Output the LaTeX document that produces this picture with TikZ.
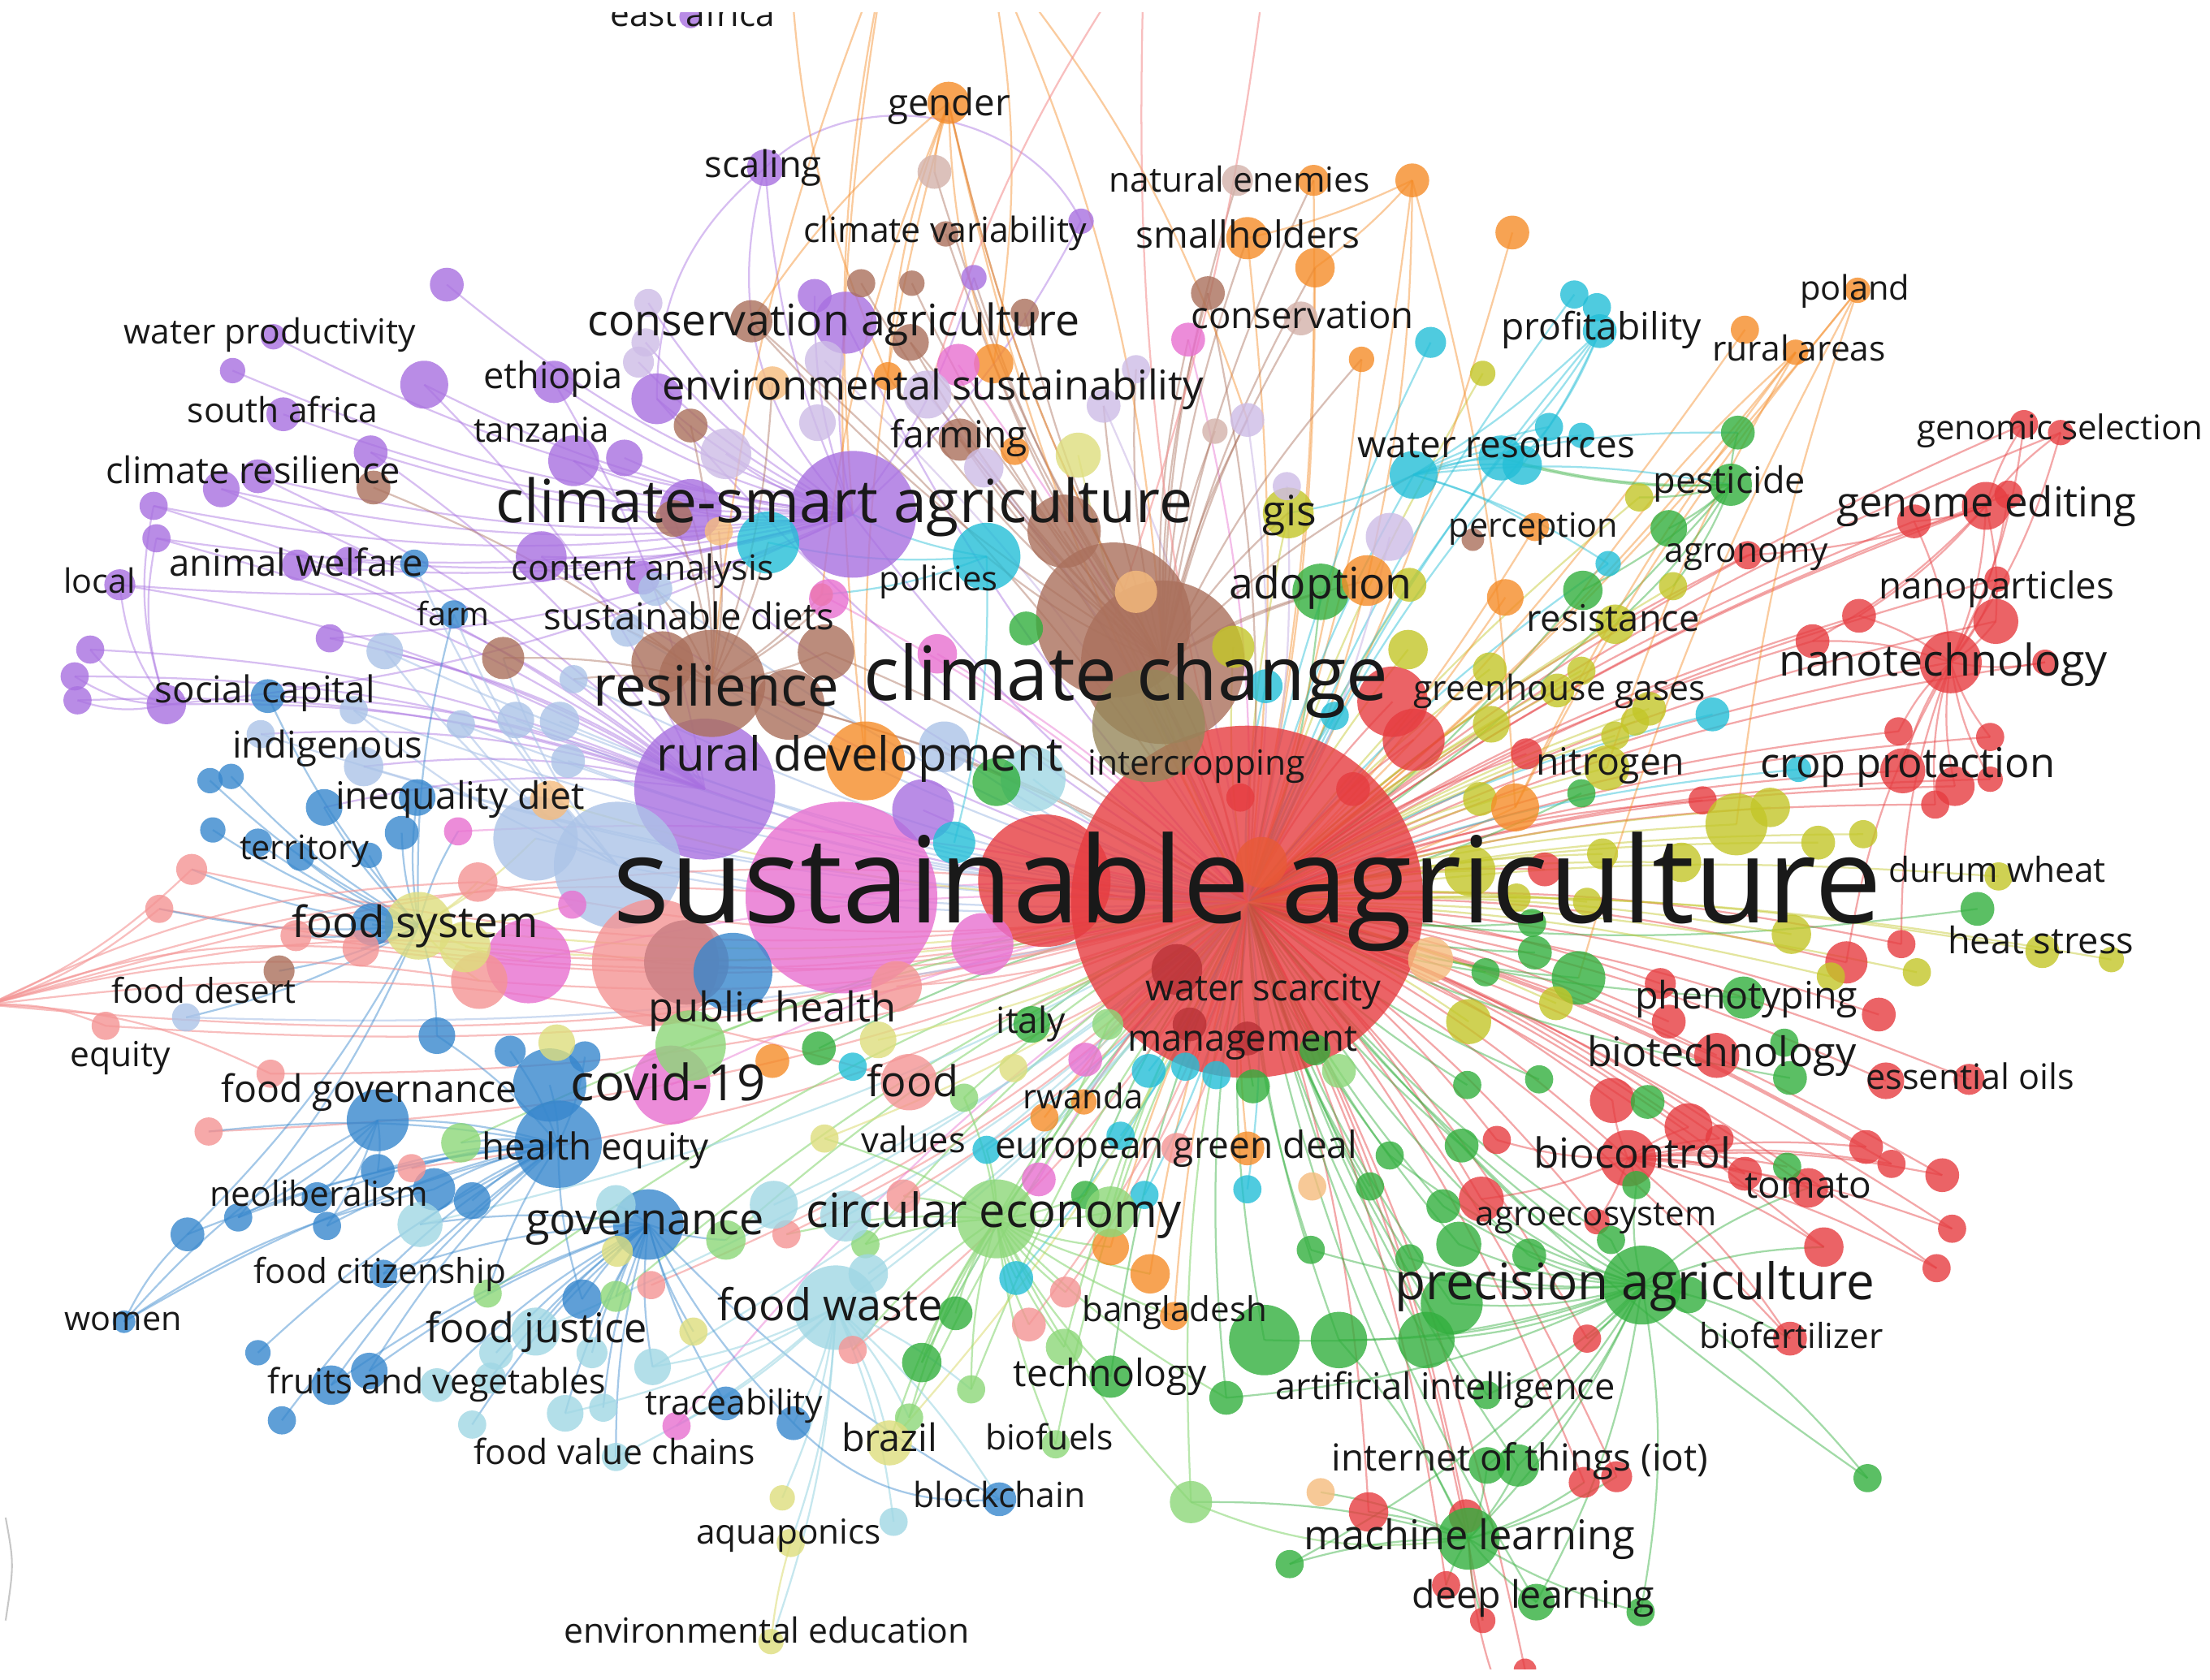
\documentclass[tikz,border=0pt]{standalone}
\usepackage{fontspec}
\usepackage{graphicx}
\newfontfamily\osans{Open Sans}
\definecolor{cR}{RGB}{230,60,64}
\definecolor{cRO}{RGB}{232,90,55}
\definecolor{cRD}{RGB}{185,50,55}
\definecolor{cG}{RGB}{50,175,62}
\definecolor{cB}{RGB}{55,135,205}
\definecolor{cY}{RGB}{195,198,40}
\definecolor{cP}{RGB}{168,112,224}
\definecolor{cC}{RGB}{35,190,215}
\definecolor{cO}{RGB}{245,140,40}
\definecolor{cN}{RGB}{170,112,92}
\definecolor{cOl}{RGB}{150,135,90}
\definecolor{cNR}{RGB}{200,125,130}
\definecolor{cK}{RGB}{232,112,208}
\definecolor{cLR}{RGB}{244,148,148}
\definecolor{cLB}{RGB}{172,196,232}
\definecolor{cLG}{RGB}{140,215,120}
\definecolor{cLC}{RGB}{160,215,228}
\definecolor{cLP}{RGB}{205,188,230}
\definecolor{cLN}{RGB}{212,178,170}
\definecolor{cLY}{RGB}{222,222,125}
\definecolor{cLO}{RGB}{246,188,125}
\definecolor{txt}{RGB}{25,25,25}
\pgfdeclarelayer{bg}
\pgfdeclarelayer{edges}
\pgfdeclarelayer{front}
\pgfdeclarelayer{top}
\pgfsetlayers{bg,edges,main,front,top}
\newcommand\nd[5]{\node[bub,fill=#5,minimum size=#4*2pt] (#1) at (#2,#3) {};}
\newcommand\lb[5]{\node[lbl] (#1) at (#2,#3) {\resizebox{#4pt}{!}{\osans\fontsize{20}{24}\selectfont #5}};}
\begin{document}
\begin{tikzpicture}[x=1pt,y=-1pt,
  bub/.style={circle,inner sep=0pt,draw=none,fill opacity=0.8},
  lbl/.style={anchor=base,inner sep=0pt,text=txt},
  ed/.style={line width=1.3pt,draw opacity=0.45},
  eR/.style={ed,draw=cR},eG/.style={ed,draw=cG},eY/.style={ed,draw=cY},
  eB/.style={ed,draw=cB},eP/.style={ed,draw=cP},eC/.style={ed,draw=cC},
  eO/.style={ed,draw=cO},eN/.style={ed,draw=cN},eK/.style={ed,draw=cK},
  eLR/.style={ed,draw=cLR,draw opacity=0.6},eLB/.style={ed,draw=cLB,draw opacity=0.6},
  eLG/.style={ed,draw=cLG,draw opacity=0.6},eLC/.style={ed,draw=cLC,draw opacity=0.6},
  eLP/.style={ed,draw=cLP,draw opacity=0.6},eLY/.style={ed,draw=cLY,draw opacity=0.6}]
\useasboundingbox (0,0) rectangle (1568,1192);
\begin{pgfonlayer}{bg}
\fill[white] (0,0) rectangle (1568,1192);
\end{pgfonlayer}
% ---------- big circles first
\nd{sa}{885}{640}{125}{cR}
\nd{k5}{597}{637}{68}{cK}
\nd{p32}{500}{560}{50}{cP}
\nd{sa2}{741}{625}{47}{cR}
\nd{lb11}{438}{614}{45}{cLB}
\nd{lr8}{465}{683}{45}{cLR}
\nd{p21}{605}{365}{45}{cP}
\nd{n15}{790}{440}{55}{cN}
\nd{n16}{825}{470}{58}{cN}
\nd{n17}{815}{515}{40}{cOl}
\nd{n18}{505}{485}{38}{cN}
\nd{lb10}{380}{595}{30}{cLB}
\nd{b20}{396}{812}{31}{cB}
\nd{lc14}{593}{928}{30}{cLC}
\nd{k7}{375}{682}{30}{cK}
\nd{n22}{487}{683}{30}{cNR}
\nd{b39}{520}{690}{28}{cB}
\nd{lg10}{707}{865}{28}{cLG}
\nd{g18}{1165}{912}{28}{cG}
\nd{k9}{476}{770}{28}{cK}
\nd{o18}{614}{540}{28}{cO}
\nd{b17}{390}{770}{26}{cB}
\nd{n14}{755}{377}{26}{cN}
\nd{lg1}{490}{742}{25}{cLG}
\nd{b28}{460}{869}{25}{cB}
\nd{g25}{897}{951}{25}{cG}
\nd{r3}{988}{498}{25}{cR}
\nd{n19}{560}{500}{25}{cN}
\nd{ly3}{297}{657}{24}{cLY}
\nd{c11}{700}{395}{24}{cC}
\nd{lc18}{733}{553}{23}{cLC}
% ---------- red
\nd{r4}{1003}{525}{22}{cR}
\nd{r5}{895}{612}{18}{cRO}
\nd{r6}{1083}{535}{11}{cR}
\nd{r7}{1436}{301}{10}{cR}
\nd{r8}{1462}{307}{9}{cR}
\nd{r9}{1409}{359}{17}{cR}
\nd{r10}{1425}{351}{10}{cR}
\nd{r11}{1358}{370}{12}{cR}
\nd{r12}{1416}{441}{16}{cR}
\nd{r13}{1417}{411}{9}{cR}
\nd{r14}{1384}{470}{22}{cR}
\nd{r15}{1319}{437}{12}{cR}
\nd{r16}{1286}{455}{12}{cR}
\nd{r17}{1451}{470}{9}{cR}
\nd{r18}{1347}{519}{10}{cR}
\nd{r19}{1412}{523}{10}{cR}
\nd{r20}{1350}{547}{16}{cR}
\nd{r21}{1387}{558}{14}{cR}
\nd{r22}{1412}{553}{9}{cR}
\nd{r23}{1373}{571}{10}{cR}
\nd{r24}{1208}{568}{10}{cR}
\nd{r25}{1349}{670}{10}{cR}
\nd{r26}{1310}{683}{15}{cR}
\nd{r27}{1333}{720}{12}{cR}
\nd{r28}{1178}{698}{11}{cR}
\nd{r29}{1184}{725}{12}{cR}
\nd{r30}{1218}{749}{16}{cR}
\nd{r31}{1338}{767}{13}{cR}
\nd{r32}{1397}{766}{11}{cR}
\nd{r33}{1144}{781}{16}{cR}
\nd{r34}{1155}{822}{20}{cR}
\nd{r35}{1198}{800}{17}{cR}
\nd{r36}{1220}{808}{10}{cR}
\nd{r37}{1062}{809}{10}{cR}
\nd{r38}{1051}{851}{16}{cR}
\nd{r39}{1133}{867}{9}{cR}
\nd{r40}{1238}{833}{12}{cR}
\nd{r41}{1283}{843}{14}{cR}
\nd{r42}{1324}{814}{12}{cR}
\nd{r43}{1342}{826}{10}{cR}
\nd{r44}{1378}{834}{12}{cR}
\nd{r45}{1385}{872}{10}{cR}
\nd{r46}{1374}{900}{10}{cR}
\nd{r47}{1294}{885}{14}{cR}
\nd{r48}{1270}{950}{12}{cR}
\nd{r49}{1126}{950}{10}{cR}
\nd{r50}{1124}{1052}{11}{cR}
\nd{r51}{1147}{1048}{11}{cR}
\nd{r52}{1040}{1076}{12}{cR}
\nd{r53}{971}{1073}{14}{cR}
\nd{r54}{1026}{1125}{10}{cR}
\nd{r55}{1052}{1150}{9}{cR}
\nd{r56}{1082}{1185}{8}{cR}
\nd{r57}{1240}{394}{10}{cR}
\nd{r58}{880}{566}{10}{cR}
\nd{r60}{960}{560}{12}{cR}
\nd{r61}{1096}{617}{12}{cR}
\nd{r62}{835}{688}{18}{cRD}
\nd{r63}{844}{727}{12}{cRD}
\nd{r64}{885}{737}{12}{cRD}
% ---------- green
\nd{g1}{937}{420}{20}{cG}
\nd{g2}{1233}{307}{12}{cG}
\nd{g3}{1228}{344}{15}{cG}
\nd{g4}{1184}{375}{13}{cG}
\nd{g5}{1123}{419}{14}{cG}
\nd{g6}{1122}{563}{10}{cG}
\nd{g7}{1403}{645}{12}{cG}
\nd{g8}{1237}{708}{15}{cG}
\nd{g9}{1266}{740}{10}{cG}
\nd{g10}{1270}{765}{12}{cG}
\nd{g11}{1092}{766}{10}{cG}
\nd{g12}{1169}{782}{12}{cG}
\nd{g13}{1120}{694}{19}{cG}
\nd{g14}{1089}{676}{12}{cG}
\nd{g15}{1054}{690}{10}{cG}
\nd{g16}{1161}{841}{10}{cG}
\nd{g17}{1268}{828}{10}{cG}
\nd{g19}{1198}{919}{13}{cG}
\nd{g20}{1085}{891}{12}{cG}
\nd{g21}{1035}{883}{16}{cG}
\nd{g22}{1030}{925}{22}{cG}
\nd{g23}{1012}{951}{20}{cG}
\nd{g24}{950}{951}{20}{cG}
\nd{g26}{870}{992}{12}{cG}
\nd{g27}{788}{977}{15}{cG}
\nd{g28}{654}{967}{14}{cG}
\nd{g29}{678}{932}{12}{cG}
\nd{g30}{1325}{1049}{10}{cG}
\nd{g31}{1077}{1040}{15}{cG}
\nd{g32}{1055}{1040}{13}{cG}
\nd{g33}{1042}{1092}{22}{cG}
\nd{g34}{915}{1110}{10}{cG}
\nd{g35}{1090}{1137}{13}{cG}
\nd{g36}{1164}{1144}{10}{cG}
\nd{g37}{732}{727}{13}{cG}
\nd{g38}{581}{744}{12}{cG}
\nd{g39}{889}{771}{12}{cG}
\nd{g40}{770}{848}{10}{cG}
\nd{g41}{707}{555}{17}{cG}
\nd{g42}{728}{446}{12}{cG}
\nd{g43}{986}{820}{10}{cG}
\nd{g44}{1037}{813}{12}{cG}
\nd{g45}{1024}{856}{12}{cG}
\nd{g46}{972}{842}{10}{cG}
\nd{g47}{930}{887}{10}{cG}
\nd{g48}{933}{745}{11}{cG}
\nd{g49}{1041}{770}{10}{cG}
\nd{g50}{1087}{655}{10}{cG}
\nd{g51}{1000}{893}{10}{cG}
\nd{g52}{1143}{880}{10}{cG}
\nd{g53}{1055}{990}{10}{cG}
% ---------- yellow
\nd{y1}{914}{364}{18}{cY}
\nd{y2}{1052}{265}{9}{cY}
\nd{y3}{1163}{353}{10}{cY}
\nd{y4}{1146}{443}{14}{cY}
\nd{y5}{1187}{416}{10}{cY}
\nd{y6}{1057}{475}{12}{cY}
\nd{y7}{1122}{476}{10}{cY}
\nd{y8}{1105}{490}{12}{cY}
\nd{y9}{1170}{503}{12}{cY}
\nd{y10}{1160}{512}{10}{cY}
\nd{y11}{1146}{522}{10}{cY}
\nd{y12}{1058}{514}{13}{cY}
\nd{y13}{1140}{545}{16}{cY}
\nd{y14}{1050}{567}{12}{cY}
\nd{y15}{1232}{585}{22}{cY}
\nd{y16}{1256}{573}{14}{cY}
\nd{y17}{1290}{598}{12}{cY}
\nd{y18}{1322}{592}{10}{cY}
\nd{y19}{1137}{606}{11}{cY}
\nd{y20}{1193}{612}{14}{cY}
\nd{y21}{1418}{622}{10}{cY}
\nd{y22}{1449}{675}{12}{cY}
\nd{y23}{1498}{681}{9}{cY}
\nd{y24}{1360}{690}{10}{cY}
\nd{y25}{1271}{663}{14}{cY}
\nd{y26}{1299}{693}{10}{cY}
\nd{y27}{1104}{712}{12}{cY}
\nd{y28}{1042}{725}{16}{cY}
\nd{y29}{875}{459}{15}{cY}
\nd{y30}{999}{461}{14}{cY}
\nd{y31}{1000}{415}{12}{cY}
\nd{y32}{1043}{618}{18}{cY}
\nd{y33}{1076}{637}{10}{cY}
\nd{y34}{1126}{640}{10}{cY}
% ---------- blue
\nd{b1}{294}{400}{10}{cB}
\nd{b2}{322}{436}{10}{cB}
\nd{b3}{190}{494}{12}{cB}
\nd{b4}{149}{554}{9}{cB}
\nd{b5}{164}{551}{9}{cB}
\nd{b6}{230}{573}{13}{cB}
\nd{b7}{296}{566}{13}{cB}
\nd{b8}{151}{589}{9}{cB}
\nd{b9}{183}{598}{10}{cB}
\nd{b10}{213}{608}{10}{cB}
\nd{b11}{262}{607}{9}{cB}
\nd{b12}{285}{591}{12}{cB}
\nd{b13}{264}{656}{15}{cB}
\nd{b14}{310}{735}{13}{cB}
\nd{b15}{362}{746}{11}{cB}
\nd{b16}{415}{750}{11}{cB}
\nd{b18}{268}{795}{22}{cB}
\nd{b21}{268}{831}{12}{cB}
\nd{b22}{308}{844}{15}{cB}
\nd{b23}{225}{850}{11}{cB}
\nd{b24}{335}{852}{13}{cB}
\nd{b25}{232}{870}{10}{cB}
\nd{b26}{169}{864}{10}{cB}
\nd{b27}{133}{876}{12}{cB}
\nd{b29}{272}{904}{10}{cB}
\nd{b30}{413}{922}{14}{cB}
\nd{b31}{183}{960}{9}{cB}
\nd{b32}{88}{938}{8}{cB}
\nd{b33}{262}{973}{13}{cB}
\nd{b34}{235}{983}{14}{cB}
\nd{b35}{200}{1008}{10}{cB}
\nd{b36}{563}{1010}{12}{cB}
\nd{b37}{515}{996}{12}{cB}
\nd{b38}{709}{1064}{12}{cB}
% ---------- purple
\nd{p1}{490}{12}{8}{cP}
\nd{p2}{543}{119}{13}{cP}
\nd{p3}{767}{157}{9}{cP}
\nd{p4}{691}{197}{9}{cP}
\nd{p5}{578}{210}{12}{cP}
\nd{p6}{600}{229}{22}{cP}
\nd{p7}{317}{202}{12}{cP}
\nd{p8}{194}{239}{9}{cP}
\nd{p9}{165}{263}{9}{cP}
\nd{p10}{301}{273}{17}{cP}
\nd{p11}{393}{271}{15}{cP}
\nd{p12}{466}{283}{18}{cP}
\nd{p13}{201}{294}{12}{cP}
\nd{p14}{263}{321}{12}{cP}
\nd{p15}{407}{327}{18}{cP}
\nd{p16}{443}{325}{13}{cP}
\nd{p17}{183}{338}{12}{cP}
\nd{p18}{157}{347}{13}{cP}
\nd{p19}{109}{359}{10}{cP}
\nd{p20}{111}{382}{10}{cP}
\nd{p22}{490}{362}{22}{cP}
\nd{p23}{384}{395}{18}{cP}
\nd{p24}{211}{401}{11}{cP}
\nd{p25}{247}{398}{10}{cP}
\nd{p26}{85}{415}{11}{cP}
\nd{p27}{64}{461}{10}{cP}
\nd{p28}{53}{480}{10}{cP}
\nd{p29}{55}{497}{10}{cP}
\nd{p30}{118}{500}{14}{cP}
\nd{p31}{234}{453}{10}{cP}
\nd{p33}{655}{575}{22}{cP}
\nd{p35}{456}{410}{12}{cP}
% ---------- cyan
\nd{c1}{1015}{243}{11}{cC}
\nd{c2}{1003}{337}{17}{cC}
\nd{c3}{1099}{303}{10}{cC}
\nd{c4}{1122}{309}{9}{cC}
\nd{c5}{1065}{325}{16}{cC}
\nd{c6}{1080}{330}{14}{cC}
\nd{c7}{1117}{209}{10}{cC}
\nd{c8}{1133}{218}{10}{cC}
\nd{c9}{1135}{235}{12}{cC}
\nd{c10}{545}{385}{22}{cC}
\nd{c12}{1141}{400}{9}{cC}
\nd{c13}{1215}{507}{12}{cC}
\nd{c14}{1276}{546}{9}{cC}
\nd{c15}{898}{487}{12}{cC}
\nd{c16}{947}{508}{10}{cC}
\nd{c17}{677}{598}{15}{cC}
\nd{c18}{605}{757}{10}{cC}
\nd{c19}{815}{760}{12}{cC}
\nd{c20}{841}{757}{10}{cC}
\nd{c21}{863}{763}{10}{cC}
\nd{c22}{700}{816}{10}{cC}
\nd{c23}{812}{848}{10}{cC}
\nd{c24}{885}{844}{10}{cC}
\nd{c25}{721}{907}{12}{cC}
\nd{c26}{795}{806}{10}{cC}
% ---------- orange
\nd{o1}{673}{73}{15}{cO}
\nd{o2}{932}{128}{11}{cO}
\nd{o3}{1002}{128}{12}{cO}
\nd{o4}{1073}{165}{12}{cO}
\nd{o5}{885}{169}{15}{cO}
\nd{o6}{933}{190}{14}{cO}
\nd{o7}{966}{255}{9}{cO}
\nd{o8}{705}{258}{14}{cO}
\nd{o9}{630}{267}{10}{cO}
\nd{o10}{720}{320}{10}{cO}
\nd{o11}{1238}{234}{10}{cO}
\nd{o12}{1318}{206}{9}{cO}
\nd{o13}{1274}{250}{9}{cO}
\nd{o14}{1089}{374}{10}{cO}
\nd{o15}{970}{412}{18}{cO}
\nd{o16}{1068}{424}{13}{cO}
\nd{o17}{1075}{573}{17}{cO}
\nd{o19}{583}{422}{8}{cO}
\nd{o20}{548}{753}{12}{cO}
\nd{o21}{741}{793}{10}{cO}
\nd{o22}{885}{815}{12}{cO}
\nd{o23}{788}{885}{13}{cO}
\nd{o24}{816}{904}{14}{cO}
\nd{o25}{833}{934}{10}{cO}
\nd{o26}{769}{782}{9}{cO}
% ---------- brown
\nd{n1}{671}{166}{9}{cN}
\nd{n2}{857}{208}{12}{cN}
\nd{n3}{647}{201}{9}{cN}
\nd{n4}{611}{201}{10}{cN}
\nd{n5}{533}{228}{15}{cN}
\nd{n6}{727}{222}{10}{cN}
\nd{n7}{646}{243}{13}{cN}
\nd{n8}{681}{312}{15}{cN}
\nd{n9}{490}{302}{12}{cN}
\nd{n10}{478}{368}{13}{cN}
\nd{n11}{265}{346}{12}{cN}
\nd{n12}{357}{467}{15}{cN}
\nd{n13}{198}{689}{11}{cN}
\nd{n20}{470}{470}{22}{cN}
\nd{n21}{586}{463}{20}{cN}
\nd{n23}{1045}{383}{8}{cN}
% ---------- pink
\nd{k1}{843}{241}{12}{cK}
\nd{k2}{680}{259}{15}{cK}
\nd{k3}{588}{425}{14}{cK}
\nd{k4}{665}{464}{14}{cK}
\nd{k6}{697}{670}{22}{cK}
\nd{k8}{406}{642}{10}{cK}
\nd{k10}{770}{752}{12}{cK}
\nd{k11}{737}{837}{12}{cK}
\nd{k12}{480}{1012}{10}{cK}
\nd{k13}{325}{590}{10}{cK}
% ---------- light red
\nd{lr1}{136}{617}{11}{cLR}
\nd{lr2}{113}{645}{10}{cLR}
\nd{lr3}{339}{626}{14}{cLR}
\nd{lr4}{210}{664}{11}{cLR}
\nd{lr5}{256}{673}{13}{cLR}
\nd{lr6}{75}{728}{10}{cLR}
\nd{lr7}{340}{696}{20}{cLR}
\nd{lr9}{192}{762}{10}{cLR}
\nd{lr10}{148}{803}{10}{cLR}
\nd{lr11}{292}{829}{10}{cLR}
\nd{lr12}{462}{912}{10}{cLR}
\nd{lr13}{558}{876}{10}{cLR}
\nd{lr14}{641}{849}{12}{cLR}
\nd{lr15}{756}{917}{11}{cLR}
\nd{lr16}{730}{940}{12}{cLR}
\nd{lr17}{605}{958}{10}{cLR}
\nd{lr18}{645}{768}{20}{cLR}
\nd{lr19}{636}{700}{18}{cLR}
\nd{lr20}{835}{815}{11}{cLR}
% ---------- light blue
\nd{lb1}{273}{462}{13}{cLB}
\nd{lb2}{251}{504}{10}{cLB}
\nd{lb3}{185}{521}{10}{cLB}
\nd{lb4}{327}{514}{10}{cLB}
\nd{lb5}{366}{511}{13}{cLB}
\nd{lb6}{397}{512}{14}{cLB}
\nd{lb7}{403}{540}{12}{cLB}
\nd{lb8}{407}{482}{10}{cLB}
\nd{lb9}{258}{544}{14}{cLB}
\nd{lb12}{132}{722}{10}{cLB}
\nd{lb13}{670}{530}{18}{cLB}
\nd{lb14}{465}{418}{12}{cLB}
\nd{lb15}{445}{447}{12}{cLB}
% ---------- light green
\nd{lg2}{327}{811}{14}{cLG}
\nd{lg3}{515}{880}{14}{cLG}
\nd{lg4}{346}{918}{10}{cLG}
\nd{lg5}{437}{920}{11}{cLG}
\nd{lg6}{645}{1006}{10}{cLG}
\nd{lg7}{749}{1025}{10}{cLG}
\nd{lg8}{845}{1066}{15}{cLG}
\nd{lg9}{689}{986}{10}{cLG}
\nd{lg11}{788}{860}{18}{cLG}
\nd{lg12}{614}{883}{10}{cLG}
\nd{lg13}{755}{956}{13}{cLG}
\nd{lg14}{786}{727}{11}{cLG}
\nd{lg15}{950}{760}{12}{cLG}
\nd{lg16}{684}{779}{10}{cLG}
% ---------- light cyan
\nd{lc1}{298}{869}{16}{cLC}
\nd{lc2}{437}{855}{14}{cLC}
\nd{lc3}{380}{945}{17}{cLC}
\nd{lc4}{352}{960}{12}{cLC}
\nd{lc5}{420}{960}{11}{cLC}
\nd{lc6}{463}{970}{13}{cLC}
\nd{lc7}{310}{983}{12}{cLC}
\nd{lc8}{348}{978}{11}{cLC}
\nd{lc9}{401}{1003}{13}{cLC}
\nd{lc10}{428}{999}{10}{cLC}
\nd{lc11}{335}{1011}{10}{cLC}
\nd{lc12}{437}{1034}{10}{cLC}
\nd{lc13}{634}{1080}{10}{cLC}
\nd{lc15}{616}{904}{14}{cLC}
\nd{lc16}{549}{855}{17}{cLC}
\nd{lc17}{600}{863}{18}{cLC}
% ---------- lavender
\nd{lp1}{460}{215}{10}{cLP}
\nd{lp2}{458}{243}{10}{cLP}
\nd{lp3}{453}{257}{11}{cLP}
\nd{lp4}{585}{256}{14}{cLP}
\nd{lp5}{658}{280}{17}{cLP}
\nd{lp6}{783}{288}{12}{cLP}
\nd{lp7}{806}{262}{10}{cLP}
\nd{lp8}{885}{298}{12}{cLP}
\nd{lp9}{698}{332}{14}{cLP}
\nd{lp10}{913}{345}{10}{cLP}
\nd{lp11}{986}{381}{17}{cLP}
\nd{lp12}{515}{322}{18}{cLP}
\nd{lp13}{580}{300}{13}{cLP}
% ---------- light brown / yellow / orange
\nd{ln1}{663}{122}{12}{cLN}
\nd{ln2}{878}{128}{11}{cLN}
\nd{ln3}{923}{226}{12}{cLN}
\nd{ln4}{862}{306}{9}{cLN}
\nd{ly1}{765}{323}{16}{cLY}
\nd{ly4}{330}{672}{18}{cLY}
\nd{ly5}{395}{740}{13}{cLY}
\nd{ly6}{438}{888}{11}{cLY}
\nd{ly7}{492}{945}{10}{cLY}
\nd{ly8}{555}{1063}{9}{cLY}
\nd{ly9}{561}{1095}{10}{cLY}
\nd{ly10}{547}{1165}{9}{cLY}
\nd{ly11}{631}{1024}{16}{cLY}
\nd{ly12}{585}{808}{10}{cLY}
\nd{ly13}{623}{738}{13}{cLY}
\nd{ly14}{719}{758}{10}{cLY}
\nd{lo1}{548}{272}{12}{cLO}
\nd{lo2}{510}{377}{10}{cLO}
\nd{lo3}{390}{568}{14}{cLO}
\nd{lo4}{931}{842}{10}{cLO}
\nd{lo5}{937}{1059}{10}{cLO}
\nd{lo6}{1015}{681}{16}{cLO}
\nd{lo7}{806}{420}{15}{cLO}
% ---------- points beyond the frame
\coordinate (et1) at (630,-40);
\coordinate (et2) at (700,-40);
\coordinate (et3) at (812,-40);
\coordinate (et4) at (560,-40);
\coordinate (et5) at (900,-40);
\coordinate (exl) at (-8,713);
\coordinate (exb) at (1075,1230);
% ---------- edges
\begin{pgfonlayer}{edges}
\foreach \t in {sa2,r3,r4,r6,r7,r8,r9,r10,r11,r12,r13,r14,r15,r16,r17,r18,r19,r20,r21,r22,r23,r24,r25,r26,r27,r28,r29,r30,r31,r32,r33,r34,r35,r36,r37,r38,r39,r40,r41,r42,r43,r44,r45,r46,r47,r48,r49,r50,r51,r52,r53,r54,r55,r56,r57,r61}
  \draw[eR] (sa.center) to[bend left=8] (\t.center);
\foreach \t in {g1,g3,g5,g6,g7,g8,g10,g11,g13,g14,g15,g18,g20,g21,g22,g23,g24,g25,g26,g27,g28,g30,g31,g33,g35,g37,g38,g39,g40,g43,g44,g45,g46,g47,g48,g49,g50,g51,g52,g53}
  \draw[eG] (sa.center) to[bend right=8] (\t.center);
\foreach \t in {y1,y2,y3,y4,y5,y6,y7,y8,y9,y10,y11,y12,y13,y14,y15,y16,y17,y18,y19,y20,y21,y22,y23,y24,y25,y26,y27,y28,y29,y30,y31,y32,y33,y34}
  \draw[eY] (sa.center) to[bend left=6] (\t.center);
\foreach \t in {o2,o3,o4,o5,o6,o7,o11,o12,o13,o14,o15,o16,o17,o21,o22,o23,o24,o25,o26}
  \draw[eO] (sa.center) to[bend right=6] (\t.center);
\foreach \t in {c1,c2,c3,c5,c7,c9,c12,c13,c14,c15,c16,c19,c20,c21,c22,c23,c24,c25,c26}
  \draw[eC] (sa.center) to[bend left=8] (\t.center);
\foreach \t in {lr1,lr2,lr3,lr4,lr5,lr6,lr7,lr8,lr9,lr10,lr11,lr12,lr13,lr14,lr15,lr16,lr17,lr18,lr19,lr20}
  \draw[eLR] (sa.center) to[bend left=10] (\t.center);
\foreach \t in {k1,k2,k3,k4,k5,k6,k7,k9,k10,k11,k12,k13}
  \draw[eK] (sa.center) to[bend right=8] (\t.center);
\foreach \t in {p6,p21,p32,p33,p12,p15,p23}
  \draw[eP] (sa.center) to[bend left=8] (\t.center);
\foreach \t in {n2,n5,n7,n8,n14,n15,n16,n18,n19,n21}
  \draw[eN] (sa.center) to[bend right=8] (\t.center);
\foreach \t in {lb1,lb2,lb3,lb4,lb5,lb6,lb7,lb8,lb9,lb10,lb11,lb12,lb13,lb14,lb15}
  \draw[eLB] (sa.center) to[bend left=8] (\t.center);
\foreach \t in {lg1,lg2,lg3,lg4,lg5,lg6,lg7,lg8,lg9,lg10,lg11,lg12,lg13,lg14,lg15,lg16}
  \draw[eLG] (sa.center) to[bend right=8] (\t.center);
\foreach \t in {lc1,lc3,lc6,lc14,lc15,lc16,lc17,lc18}
  \draw[eLC] (sa.center) to[bend left=8] (\t.center);
\foreach \t in {lp4,lp5,lp6,lp8,lp9,lp10,lp11}
  \draw[eLP] (sa.center) to[bend right=8] (\t.center);
\foreach \t in {ly1,ly3,ly4,ly11,ly12,ly13,lo3,lo6,lo7}
  \draw[eLY] (sa.center) to[bend left=8] (\t.center);
\foreach \t in {p2,p5,p6,p7,p8,p9,p10,p11,p12,p13,p14,p15,p16,p17,p18,p19,p20,p22,p23,p24,p25,p26,p30,p31,p35,lp1,lp2,lp3,lp12}
  \draw[eP] (p21.center) to[bend left=10] (\t.center);
\foreach \t in {p10,p11,p14,p17,p18,p19,p20,p24,p26,p27,p28,p29,p30,p31,lb1,lb3,lb9,b3,b6}
  \draw[eP] (p32.center) to[bend right=10] (\t.center);
\foreach \t in {o1,o2,o5,o6,o7,n1,n2,n3,n4,n6,n7,n8,ln1,ln2,ln3,ln4,o8,o9,o10,k1,lp6,lp7,lp8,y1,g1,o15,c2,c11,n5,p4}
  \draw[eN] (n16.center) to[bend left=8] (\t.center);
\foreach \t in {n9,n10,n11,n12,n20,n21,lo1,lo2,p22,c10,k3,o19,lb14,lb15,lb8}
  \draw[eN] (n18.center) to[bend right=8] (\t.center);
\draw[eP] (p2.center) to[bend left=55] (p3.center);
\draw[eP] (p2.center) to[bend right=30] (p21.center);
\draw[eP] (p2.center) to[bend right=25] (p12.center);
\draw[eP] (p3.center) to[bend left=10] (p21.center);
\draw[eP] (p4.center) to[bend left=10] (p21.center);
\foreach \t in {o18,o8,o9,n16,sa,ln1,o19,n5}
  \draw[eO] (o1.center) to[bend right=8] (\t.center);
\foreach \t in {o17,y15,g13}
  \draw[eO] (o12.center) to[bend right=6] (\t.center);
\foreach \t in {o17,y13,g5}
  \draw[eO] (o13.center) to[bend right=6] (\t.center);
\foreach \t in {o5,o6,o15,o17}
  \draw[eO] (o3.center) to[bend left=6] (\t.center);
\foreach \t in {c2,c5,c6,c3}
  \draw[eC] (c9.center) to[bend left=6] (\t.center);
\foreach \t in {c3,c4,c5,c6,y1,g3,g2,c12,o14}
  \draw[eC] (c2.center) to[bend left=8] (\t.center);
\foreach \t in {c10,p21,c17,o19}
  \draw[eC] (c11.center) to[bend left=8] (\t.center);
\foreach \t in {g2,g4,g5,y3,y5,c5,c6,y4}
  \draw[eG] (g3.center) to[bend left=8] (\t.center);
\foreach \t in {b3,b4,b5,b6,b7,b8,b9,b10,b11,b12,b13,b14,b26,b27,lr1,lr2,lr4,lr5,n13,lb12,k13,b2}
  \draw[eB] (ly3.center) to[bend left=8] (\t.center);
\foreach \t in {b14,b15,b16,b17,b18,b21,b22,b23,b24,b25,b26,b27,b29,b30,b31,b32,b33,b34,b35,lg2,lg4,lc1,lr10,lr11}
  \draw[eB] (b20.center) to[bend right=8] (\t.center);
\foreach \t in {b29,b30,b33,b34,b36,b37,b38,lc1,lc2,lc3,lc4,lc5,lc6,lc7,lc8,lc9,lc10,lc11,lc12,lg3,lg5,ly6,ly7}
  \draw[eB] (b28.center) to[bend right=8] (\t.center);
\foreach \t in {b18,b22,b27}
  \draw[eB] (b32.center) to[bend left=10] (\t.center);
\foreach \t in {lc6,lc9,lc12,lc13,b36,b38,ly8,ly9,ly10,ly11,lg6,lg9,k12,lr17}
  \draw[eLC] (lc14.center) to[bend left=8] (\t.center);
\draw[eB] (b36.center) to[bend right=25] (b38.center);
\draw[eLG] (lg8.center) to[bend right=15] (g33.center);
\draw[eLY] (ly10.center) to[bend left=5] (ly9.center);
\foreach \t in {g16,g19,g20,g21,g22,g23,g24,g25,g26,g30,g31,g32,g33,g34,g35,g36,g43,g44,g45,g47,g51,g52,r48,r49,r41,r47,r38,g53}
  \draw[eG] (g18.center) to[bend left=10] (\t.center);
\foreach \t in {g31,g32,g34,g35,g36,r50,r51,r52,r53,r54,r55,lg8,lo5,g24}
  \draw[eG] (g33.center) to[bend right=8] (\t.center);
\draw[eR] (r56.center) to[bend left=8] (exb);
\draw[eR] (g33.center) to[bend right=10] (exb);
\foreach \t in {r7,r8,r9,r10,r11,r12,r13,r15,r16,r17,r18,r19,r20,r21,r22,r23,r25,r26}
  \draw[eR] (r14.center) to[bend right=10] (\t.center);
\foreach \t in {r7,r8,r11,r12,r15,r16,r57}
  \draw[eR] (r9.center) to[bend left=8] (\t.center);
\foreach \t in {r33,r35,r36,r37,r38,r39,r40,r41,r42,r43,r44,r45,r46,r47,r48,g16,g17}
  \draw[eR] (r34.center) to[bend left=8] (\t.center);
\foreach \t in {lg6,lg7,lg8,lg9,lg11,lg12,lg13,lg14,o23,o24,o25,c22,c25,lr13,lr14,lr15,lr16,lr17,g26,g27,g28,g29,g40,k11,ly11,ly12,lg16}
  \draw[eLG] (lg10.center) to[bend right=8] (\t.center);
\foreach \t in {sa,lr8,lr7,lr3,k5,lr5,lr6,lr9,lr18}
  \draw[eLR] (exl) to[bend left=12] (\t.center);
\foreach \t in {sa,lr1,lr2}
  \draw[eLR] (exl) to[bend right=10] (\t.center);
\foreach \t in {o18,p21,n18}
  \draw[eO] (et1) to[bend right=8] (\t.center);
\foreach \t in {o8,n16,lp8}
  \draw[eO] (et2) to[bend left=10] (\t.center);
\foreach \t in {sa,lp5}
  \draw[eLR] (et3) to[bend right=8] (\t.center);
\draw[eO] (et4) to[bend right=10] (o9.center);
\draw[eLR] (et5) to[bend left=6] (n15.center);
\foreach \t in {p27,p28,p29,p26,p19,p20}
  \draw[eP] (p30.center) to[bend left=15] (\t.center);
\foreach \t in {b1,b2,lb1,lb2,lb4,n12}
  \draw[eLB] (lb11.center) to[bend left=10] (\t.center);
\foreach \t in {k7,lr7,lr3,k8,lb10}
  \draw[eLY] (ly3.center) to[bend right=8] (\t.center);
\foreach \t in {b23,b25,b26,b21}
  \draw[eB] (b18.center) to[bend left=8] (\t.center);
\end{pgfonlayer}
% ---------- thin grey mark at the left edge
\draw[black!22,line width=1.2pt] (4,1077) .. controls (10,1110) .. (4,1150);
% ---------- labels
\begin{pgfonlayer}{front}
\lb{t1}{491.5}{19}{117}{east africa}
\lb{t2}{673.5}{82}{87}{gender}
\lb{t3}{541.5}{126}{83}{scaling}
\lb{t4}{879.5}{136}{185}{natural enemies}
\lb{t5}{670.5}{172}{201}{climate variability}
\lb{t6}{885.5}{176}{159}{smallholders}
\lb{t7}{591.5}{238}{349}{conservation agriculture}
\lb{t8}{924}{233}{158}{conservation}
\lb{t9}{1136}{241}{142}{profitability}
\lb{t10}{1316}{213}{78}{poland}
\lb{t11}{1276.5}{256}{123}{rural areas}
\lb{t12}{191.5}{244}{207}{water productivity}
\lb{t13}{392.5}{276}{99}{ethiopia}
\lb{t14}{662}{284}{384}{environmental sustainability}
\lb{t15}{200.5}{300}{135}{south africa}
\lb{t16}{384}{314}{96}{tanzania}
\lb{t17}{680.5}{318}{97}{farming}
\lb{t18}{1061.5}{325}{197}{water resources}
\lb{t19}{1461.5}{312}{203}{genomic selection}
\lb{t20}{179.5}{343}{209}{climate resilience}
\lb{t21}{1227}{350}{108}{pesticide}
\lb{t22}{599}{371}{494}{climate-smart agriculture}
\lb{t23}{915}{373}{38}{gis}
\lb{t24}{1409.5}{367}{213}{genome editing}
\lb{t25}{1088}{381}{120}{perception}
\lb{t26}{1239}{399}{116}{agronomy}
\lb{t27}{70.5}{421}{51}{local}
\lb{t28}{210}{409}{180}{animal welfare}
\lb{t29}{456}{412}{186}{content analysis}
\lb{t30}{666}{419}{84}{policies}
\lb{t31}{937}{425}{130}{adoption}
\lb{t32}{1416.5}{425}{167}{nanoparticles}
\lb{t33}{321.5}{444}{51}{farm}
\lb{t34}{489}{447}{206}{sustainable diets}
\lb{t35}{1144.5}{448}{123}{resistance}
\lb{t36}{1378.5}{480}{233}{nanotechnology}
\lb{t37}{188}{499}{156}{social capital}
\lb{t38}{508}{501}{174}{resilience}
\lb{t39}{799}{497}{372}{climate change}
\lb{t40}{1106.5}{497}{207}{greenhouse gases}
\lb{t41}{232.5}{538}{135}{indigenous}
\lb{t42}{610}{547}{288}{rural development}
\lb{t43}{849}{550}{154}{intercropping}
\lb{t44}{1142.5}{550}{105}{nitrogen}
\lb{t45}{1353.5}{552}{209}{crop protection}
\lb{t46}{326.5}{574}{177}{inequality diet}
\lb{t47}{216}{610}{92}{territory}
\lb{t48}{885}{655}{900}{sustainable agriculture}
\lb{t49}{1417}{626}{154}{durum wheat}
\lb{t50}{294.5}{665}{175}{food system}
\lb{t51}{1448}{677}{132}{heat stress}
\lb{t52}{144.5}{712}{131}{food desert}
\lb{t53}{896.5}{710}{167}{water scarcity}
\lb{t54}{548}{725}{176}{public health}
\lb{t55}{1239}{716}{158}{phenotyping}
\lb{t56}{731.5}{733}{49}{italy}
\lb{t57}{85.5}{757}{71}{equity}
\lb{t58}{881.5}{746}{163}{management}
\lb{t59}{1221.5}{757}{191}{biotechnology}
\lb{t60}{262}{782}{210}{food governance}
\lb{t61}{474}{781}{138}{covid-19}
\lb{t62}{647.5}{778}{65}{food}
\lb{t63}{768.5}{787}{85}{rwanda}
\lb{t64}{1398}{773}{148}{essential oils}
\lb{t65}{422.5}{823}{161}{health equity}
\lb{t66}{648}{818}{74}{values}
\lb{t67}{834.5}{822}{257}{european green deal}
\lb{t68}{1158}{829}{140}{biocontrol}
\lb{t69}{226.5}{856}{155}{neoliberalism}
\lb{t70}{457.5}{876}{169}{governance}
\lb{t71}{705}{871}{266}{circular economy}
\lb{t72}{1283}{850}{90}{tomato}
\lb{t73}{1132.5}{870}{171}{agroecosystem}
\lb{t74}{269.5}{911}{179}{food citizenship}
\lb{t75}{1160}{922}{340}{precision agriculture}
\lb{t76}{87.5}{944}{83}{women}
\lb{t77}{589}{937}{160}{food waste}
\lb{t78}{833.5}{938}{131}{bangladesh}
\lb{t79}{380.5}{953}{157}{food justice}
\lb{t80}{1271}{957}{130}{biofertilizer}
\lb{t81}{310}{989}{240}{fruits and vegetables}
\lb{t82}{787.5}{984}{137}{technology}
\lb{t83}{1025.5}{993}{241}{artificial intelligence}
\lb{t84}{521}{1004}{126}{traceability}
\lb{t85}{631}{1030}{68}{brazil}
\lb{t86}{744.5}{1029}{91}{biofuels}
\lb{t87}{436}{1039}{200}{food value chains}
\lb{t88}{1078.5}{1044}{267}{internet of things (iot)}
\lb{t89}{709}{1070}{122}{blockchain}
\lb{t90}{559.5}{1096}{131}{aquaponics}
\lb{t91}{1042.5}{1100}{235}{machine learning}
\lb{t92}{1088}{1141}{172}{deep learning}
\lb{t93}{544}{1166}{288}{environmental education}
\end{pgfonlayer}
% ---------- white bands where the map is cut at top and bottom
\begin{pgfonlayer}{top}
\fill[white] (0,-5) rectangle (1568,8.5);
\fill[white] (0,1185) rectangle (1568,1197);
\end{pgfonlayer}
\end{tikzpicture}
\end{document}
